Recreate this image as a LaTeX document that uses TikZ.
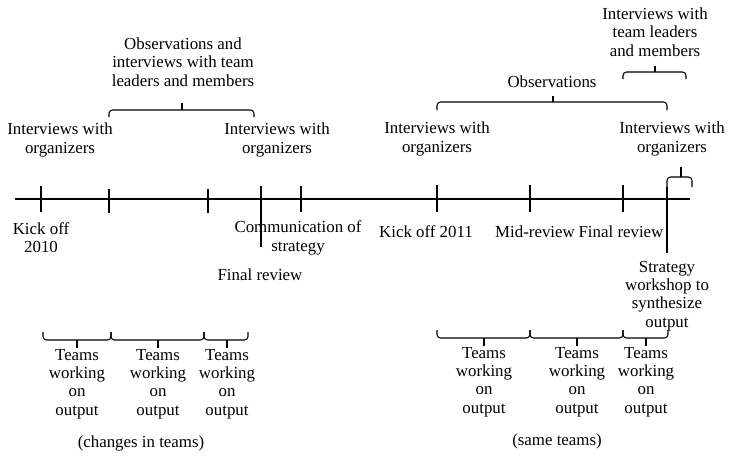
\documentclass[tikz,border=0pt]{standalone}
\usepackage{fontspec}
\setmainfont{Liberation Serif}

\tikzset{
    lbl/.style={align=center, inner sep=0pt, font=\fontsize{9.6}{10.4}\selectfont},
    tl/.style={line width=0.6pt}
}
% flat brace: left x, tip x, right x, end y, bar y, tip y
\newcommand{\tlbrace}[6]{%
    \draw[tl, rounded corners=2pt] (#1,#4) -- (#1,#5) -- (#3,#5) -- (#3,#4);
    \draw[tl] (#2,#5) -- (#2,#6);}

\begin{document}
\begin{tikzpicture}[x=0.02cm, y=-0.02cm]
        \useasboundingbox (0,0) rectangle (733,457);
        %\draw[gray] (0,0) grid[step=50] (733,457);

        % time line and ticks
        \draw[tl] (15,199) -- (690,199);
        \draw[tl] (41,186) -- (41,212) (109,189) -- (109,213) (208,189) -- (208,213) (261,186) -- (261,247) (301,186) -- (301,212) (530,185) -- (530,212) (623,185) -- (623,212) (667,187) -- (667,253);
        \draw[tl, line width=1.2pt] (437,185) -- (437,212);

        % braces above
        \tlbrace{109}{182}{254}{117}{110}{103}
        \tlbrace{437}{553}{667}{110}{102}{96}
        \tlbrace{623}{655}{686}{79}{72}{66}
        \tlbrace{667}{681}{692}{187}{177}{167}

        % braces below
        \tlbrace{43}{77}{111}{332}{340}{348}
        \tlbrace{111}{158}{204}{332}{340}{348}
        \tlbrace{204}{227}{248}{332}{340}{348}
        \tlbrace{437}{484}{530}{330}{338}{346}
        \tlbrace{530}{577}{623}{330}{338}{346}
        \tlbrace{623}{646}{668}{330}{338}{346}

        % labels above the line
        \node[lbl] (obs1) at (183,62) {Observations and\\interviews with team\\leaders and members};
        \node[lbl] (int1) at (60,140) {Interviews with\\organizers};
        \node[lbl] (int2) at (277,140) {Interviews with\\organizers};
        \node[lbl] (obs2) at (552,82) {Observations};
        \node[lbl] (itl) at (655,32) {Interviews with\\team leaders\\and members};
        \node[lbl] (int3) at (437,139) {Interviews with\\organizers};
        \node[lbl] (int4) at (672,139) {Interviews with\\organizers};

        % labels below the line
        \node[lbl] (kick1) at (41,238) {Kick off\\2010};
        \node[lbl] (comm) at (298,238) {Communication of\\strategy};
        \node[lbl] (fin1) at (260,275) {Final review};
        \node[lbl] (kick2) at (426,232) {Kick off 2011};
        \node[lbl] (mid) at (535,232) {Mid-review};
        \node[lbl] (fin2) at (621,232) {Final review};
        \node[lbl] (work) at (667,296) {Strategy\\workshop to\\synthesize\\output};

        % teams
        \node[lbl] (tm1) at (77,384) {Teams\\working\\on\\output};
        \node[lbl] (tm2) at (158,384) {Teams\\working\\on\\output};
        \node[lbl] (tm3) at (227,384) {Teams\\working\\on\\output};
        \node[lbl] (tm4) at (484,382) {Teams\\working\\on\\output};
        \node[lbl] (tm5) at (577,382) {Teams\\working\\on\\output};
        \node[lbl] (tm6) at (646,382) {Teams\\working\\on\\output};
        \node[lbl] (chg) at (141,443) {(changes in teams)};
        \node[lbl] (same) at (557,441) {(same teams)};
    \end{tikzpicture}
\end{document}
